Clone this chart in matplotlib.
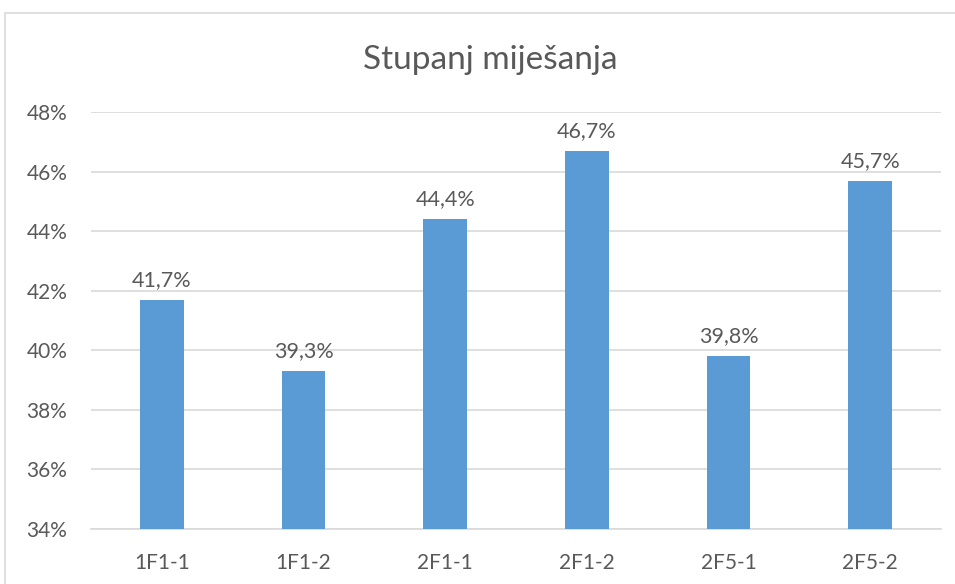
import matplotlib
matplotlib.use("Agg")
import matplotlib.pyplot as plt
from matplotlib.patches import Rectangle
from matplotlib.ticker import FuncFormatter

plt.rcParams['font.family'] = ['Lato', 'DejaVu Sans']

samples = ['1F1-1', '1F1-2', '2F1-1', '2F1-2', '2F5-1', '2F5-2']
mixing = [41.7, 39.3, 44.4, 46.7, 39.8, 45.7]

text_color = '#595959'
bar_color = '#5B9BD5'
grid_color = '#D9D9D9'

fig = plt.figure(figsize=(9.55, 5.84), dpi=100)
ax = fig.add_axes([91 / 955, 1 - 529 / 584, 850 / 955, (529 - 112) / 584])

# chart frame
fig.patches.append(Rectangle((5 / 955, -0.1), 1.2, 1 - 13 / 584 + 0.1,
                             transform=fig.transFigure, fill=False,
                             edgecolor=grid_color, linewidth=1.2))

x = range(len(samples))
bars = ax.bar(x, mixing, width=0.31, color=bar_color, zorder=3)
for b, v in zip(bars, mixing):
    ax.annotate(f"{v:.1f}%".replace('.', ','), (b.get_x() + b.get_width() / 2, v),
                xytext=(0, 7), textcoords='offset points', ha='center', va='bottom',
                fontsize=15.5, color=text_color)

ax.set_xlim(-0.5, len(samples) - 0.5)
ax.set_ylim(34, 48)
ax.set_yticks(range(34, 49, 2))
ax.yaxis.set_major_formatter(FuncFormatter(lambda v, p: f"{v:.0f}%"))
ax.set_xticks(list(x))
ax.set_xticklabels(samples)
ax.grid(axis='y', color=grid_color, linewidth=1.2, zorder=0)
for s in ['top', 'right', 'left']:
    ax.spines[s].set_visible(False)
ax.spines['bottom'].set_color(grid_color)
ax.spines['bottom'].set_linewidth(1.2)
ax.tick_params(axis='both', length=0, labelsize=15, colors=text_color)
ax.tick_params(axis='y', pad=17)
ax.tick_params(axis='x', pad=17)

fig.text(490 / 955, 1 - 60 / 584, 'Stupanj miješanja', ha='center', va='center',
         fontsize=24, color=text_color)

fig.savefig('out.png', dpi=100)
